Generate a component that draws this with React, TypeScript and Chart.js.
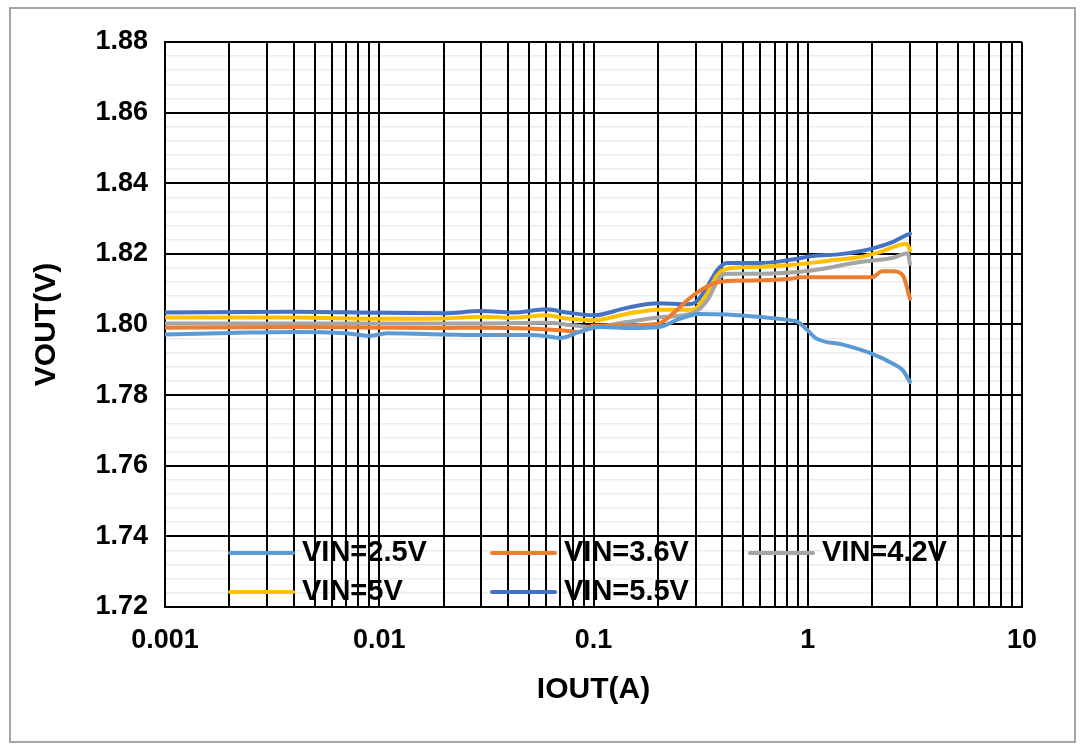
import React, { useEffect, useRef } from 'react';
import { Chart, registerables } from 'chart.js';

Chart.register(...registerables);

// ---- data ----
const seriesLabels = ['VIN=2.5V', 'VIN=3.6V', 'VIN=4.2V', 'VIN=5V', 'VIN=5.5V'];
const seriesColors = ['#5B9BD5', '#ED7D31', '#A5A5A5', '#FFC000', '#4472C4'];

const iout2p5 = [0.001, 0.002, 0.004, 0.007, 0.009, 0.011, 0.02, 0.03, 0.05, 0.06, 0.07, 0.086, 0.107, 0.15, 0.2, 0.25, 0.31, 0.42, 0.6, 0.85, 0.9, 0.98, 1.1, 1.46, 2.0, 2.5, 2.78, 3.0];
const vout2p5 = [1.7972, 1.7976, 1.7979, 1.7975, 1.7968, 1.7975, 1.7972, 1.797, 1.797, 1.7967, 1.7962, 1.7979, 1.7993, 1.799, 1.7992, 1.8015, 1.803, 1.8028, 1.8021, 1.8011, 1.8007, 1.7988, 1.796, 1.7943, 1.7917, 1.7889, 1.787, 1.7837];

const iout3p6 = [0.001, 0.004, 0.01, 0.02, 0.03, 0.05, 0.07, 0.086, 0.1, 0.15, 0.2, 0.244, 0.273, 0.314, 0.36, 0.4, 0.6, 0.85, 0.92, 2.0, 2.22, 2.5, 2.78, 3.0];
const vout3p6 = [1.7991, 1.7993, 1.7991, 1.799, 1.7991, 1.7989, 1.7984, 1.7979, 1.7997, 1.7998, 1.8002, 1.804, 1.8068, 1.8096, 1.8115, 1.8122, 1.8125, 1.813, 1.8134, 1.8134, 1.8151, 1.8151, 1.8139, 1.8073];

const iout4p2 = [0.001, 0.004, 0.01, 0.03, 0.06, 0.08, 0.1, 0.143, 0.2, 0.29, 0.339, 0.389, 0.42, 0.6, 1.04, 1.75, 2.5, 2.93, 3.0];
const vout4p2 = [1.8003, 1.8003, 1.8003, 1.8003, 1.8005, 1.7998, 1.7993, 1.8007, 1.802, 1.8032, 1.8068, 1.8134, 1.8144, 1.8144, 1.8153, 1.8177, 1.8189, 1.8202, 1.8172];

const iout5 = [0.001, 0.004, 0.01, 0.02, 0.03, 0.042, 0.06, 0.075, 0.1, 0.143, 0.2, 0.291, 0.339, 0.377, 0.42, 0.6, 0.85, 1.23, 1.75, 2.17, 2.9, 3.0];
const vout5 = [1.802, 1.802, 1.8016, 1.8017, 1.8022, 1.8019, 1.8026, 1.8017, 1.8012, 1.803, 1.8042, 1.8042, 1.8087, 1.8139, 1.8158, 1.8163, 1.8169, 1.818, 1.8191, 1.8205, 1.8229, 1.821];

const iout5p5 = [0.001, 0.004, 0.01, 0.02, 0.03, 0.042, 0.06, 0.075, 0.1, 0.143, 0.2, 0.273, 0.3, 0.339, 0.377, 0.42, 0.6, 0.85, 1.03, 1.46, 2.0, 2.5, 2.9, 3.0];
const vout5p5 = [1.8034, 1.8036, 1.8033, 1.8032, 1.8038, 1.8034, 1.8043, 1.8034, 1.8026, 1.8047, 1.806, 1.8057, 1.8063, 1.8106, 1.8153, 1.8174, 1.8174, 1.8184, 1.8193, 1.82, 1.8215, 1.8234, 1.8254, 1.8257];

const xDecades = [0.001, 0.01, 0.1, 1, 10];
const xTickLabels = ['0.001', '0.01', '0.1', '1', '10'];
const yMajorTicks = [1.72, 1.74, 1.76, 1.78, 1.8, 1.82, 1.84, 1.86, 1.88];
const yTickLabels = ['1.72', '1.74', '1.76', '1.78', '1.80', '1.82', '1.84', '1.86', '1.88'];
const yMinorStep = 0.004;
const xTitle = 'IOUT(A)';
const yTitle = 'VOUT(V)';

const seriesX = [iout2p5, iout3p6, iout4p2, iout5, iout5p5];
const seriesY = [vout2p5, vout3p6, vout4p2, vout5, vout5p5];

const FONT = '"Liberation Sans", Arial, sans-serif';

const isYMajor = (v: number) => yMajorTicks.some((t) => Math.abs(t - v) < 1e-6);

const legendPlugin = {
  id: 'excelLegend',
  afterDatasetsDraw(chart: any) {
    const { ctx, chartArea } = chart;
    const cols = [65, 327, 585];
    const rows = [-54, -15];
    ctx.save();
    ctx.font = `bold 29px ${FONT}`;
    ctx.textBaseline = 'middle';
    ctx.textAlign = 'left';
    seriesLabels.forEach((label, i) => {
      const c = i % 3;
      const r = Math.floor(i / 3);
      const x = chartArea.left + cols[c];
      const y = chartArea.bottom + rows[r];
      ctx.strokeStyle = seriesColors[i];
      ctx.lineWidth = 4;
      ctx.lineCap = 'round';
      ctx.beginPath();
      ctx.moveTo(x, y);
      ctx.lineTo(x + 63, y);
      ctx.stroke();
      ctx.fillStyle = '#000';
      ctx.fillText(label, x + 72, y);
    });
    ctx.restore();
  },
};

export default function App() {
  const ref = useRef<HTMLCanvasElement>(null);
  useEffect(() => {
    const chart = new Chart(ref.current as HTMLCanvasElement, {
      type: 'line',
      data: {
        datasets: seriesLabels.map((label, i) => ({
          label,
          data: seriesX[i].map((x, j) => ({ x, y: seriesY[i][j] })),
          borderColor: seriesColors[i],
          backgroundColor: seriesColors[i],
          borderWidth: 4,
          pointRadius: 0,
          fill: false,
          cubicInterpolationMode: 'monotone',
          borderCapStyle: 'round',
          borderJoinStyle: 'round',
        })),
      },
      options: {
        animation: false,
        responsive: true,
        maintainAspectRatio: false,
        layout: { padding: { left: 0, right: 64, top: 42, bottom: 0 } },
        plugins: { legend: { display: false }, tooltip: { enabled: false } },
        scales: {
          x: {
            type: 'logarithmic',
            min: 0.001,
            max: 10,
            afterBuildTicks: (axis: any) => {
              const ticks: any[] = [];
              for (let d = 0; d < xDecades.length - 1; d++) {
                for (let k = 1; k <= 9; k++) {
                  ticks.push({ value: parseFloat((k * xDecades[d]).toPrecision(6)) });
                }
              }
              ticks.push({ value: xDecades[xDecades.length - 1] });
              axis.ticks = ticks;
            },
            afterFit: (axis: any) => {
              axis.height = 149;
            },
            grid: { color: '#000', lineWidth: 2, drawTicks: false, z: -1 },
            border: { display: true, color: '#000', width: 2 },
            ticks: {
              autoSkip: false,
              maxRotation: 0,
              padding: 17,
              color: '#000',
              font: { family: FONT, size: 27, weight: 'bold' },
              callback: (v: any) => {
                const idx = xDecades.findIndex((d) => Math.abs(Math.log10(d) - Math.log10(Number(v))) < 1e-6);
                return idx >= 0 ? xTickLabels[idx] : '';
              },
            },
            title: {
              display: true,
              text: xTitle,
              color: '#000',
              font: { family: FONT, size: 30, weight: 'bold' },
              padding: { top: 0, bottom: 48 },
            },
          },
          y: {
            type: 'linear',
            min: 1.72,
            max: 1.88,
            afterBuildTicks: (axis: any) => {
              const ticks: any[] = [];
              const n = Math.round((1.88 - 1.72) / yMinorStep);
              for (let i = 0; i <= n; i++) {
                ticks.push({ value: parseFloat((1.72 + i * yMinorStep).toFixed(4)) });
              }
              axis.ticks = ticks;
            },
            afterFit: (axis: any) => {
              axis.width = 165;
            },
            grid: {
              drawTicks: false,
              z: -2,
              color: (ctx: any) => (isYMajor(ctx.tick.value) ? '#000' : '#ebebeb'),
              lineWidth: (ctx: any) => (isYMajor(ctx.tick.value) ? 2 : 1.5),
            },
            border: { display: true, color: '#000', width: 2 },
            ticks: {
              autoSkip: false,
              padding: 17,
              color: '#000',
              font: { family: FONT, size: 27, weight: 'bold' },
              callback: (v: any) => {
                const idx = yMajorTicks.findIndex((t) => Math.abs(t - Number(v)) < 1e-6);
                return idx >= 0 ? yTickLabels[idx] : '';
              },
            },
            title: {
              display: true,
              text: yTitle,
              color: '#000',
              font: { family: FONT, size: 30, weight: 'bold' },
              padding: { top: 29, bottom: 0 },
            },
          },
        },
      } as any,
      plugins: [legendPlugin],
    });
    return () => chart.destroy();
  }, []);

  return (
    <div style={{ position: 'fixed', left: 0, top: 0, width: 1086, height: 756, background: '#fff' }}>
      <canvas ref={ref} />
      <div
        style={{
          position: 'absolute',
          left: 9,
          top: 7,
          width: 1067,
          height: 736,
          border: '2px solid #a6a6a6',
          boxSizing: 'border-box',
          pointerEvents: 'none',
        }}
      />
    </div>
  );
}
